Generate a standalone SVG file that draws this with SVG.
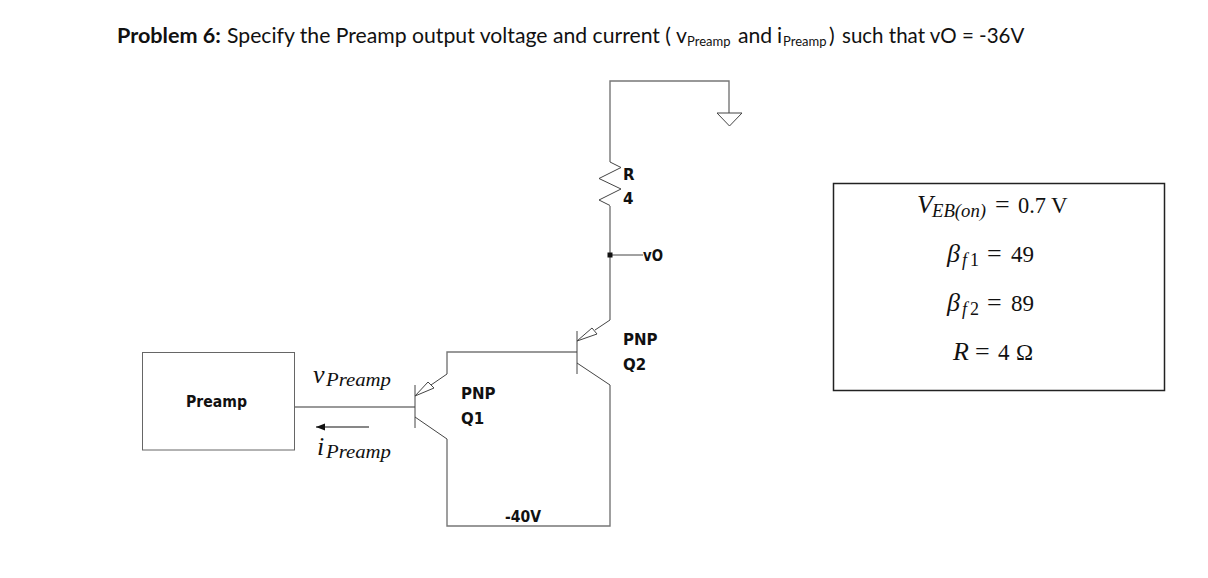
<svg xmlns="http://www.w3.org/2000/svg" width="1208" height="578" viewBox="0 0 1208 578">
<style>
.w{fill:none;stroke:#777;stroke-width:1.4}
.t{fill:none;stroke:#444;stroke-width:1}
.h{font-family:"Lato","Liberation Sans",sans-serif;font-size:21.2px;fill:#111}
.s{font-size:13px}
.l{font-family:"DejaVu Sans","Liberation Sans",sans-serif;font-size:15px;font-weight:700;fill:#111}
.m{font-family:"Liberation Serif",serif;font-size:23px;fill:#111}
.e{font-family:"Liberation Serif",serif;font-size:26px;fill:#111}
.u{font-family:"Liberation Serif",serif;font-size:18px;fill:#111}
.i{font-style:italic}
</style>
<defs><marker id="a" markerUnits="userSpaceOnUse" markerWidth="10" markerHeight="8" refX="9" refY="3.500" orient="auto"><path d="M0 0L9 3.500L0 7Z" fill="#111"/></marker></defs>
<rect width="1208" height="578" fill="#fff"/>
<g id="title">
<text class="h" y="43"><tspan x="117" font-weight="700" font-size="21.6">Problem 6:</tspan><tspan x="227">Specify the Preamp output voltage and current (</tspan><tspan x="676">v</tspan><tspan x="687" dy="3" class="s">Preamp</tspan><tspan x="738" dy="-3">and</tspan><tspan x="777">i</tspan><tspan x="783" dy="3" class="s">Preamp</tspan><tspan x="829" dy="-3">)</tspan><tspan x="842" font-size="20.5">such that vO = -36V</tspan></text>
</g>
<g id="connectors">
<path class="w" d="M610 162V81H729V113"/>
<path class="w" d="M610 206V320"/>
<path class="w" d="M447 374V352H577"/>
<path class="w" d="M610 385V526H447V439"/>
<path class="w" d="M295 407H415"/>
<path class="t" d="M610 255H643"/>
<path d="M369 427H316" fill="none" stroke="#111" stroke-width="1.2" marker-end="url(#a)"/>
</g>
<g id="ground"><path class="t" d="M717 113H742L729.500 126Z"/></g>
<g id="resistor">
<path class="t" d="M610 162L621 167.500L599 178.500L621 189L599 200L610 205.500"/>
<text class="l" x="623" y="180">R</text>
<text class="l" x="623" y="204">4</text>
</g>
<g id="vo"><rect x="607.500" y="252.500" width="5" height="5" fill="#111"/><text class="l" x="643" y="261" textLength="20" lengthAdjust="spacingAndGlyphs">vO</text></g>
<g id="q2">
<path class="t" d="M577 331V374M577 363L610 385M610 320L595 330M577 341L592 328L597 334Z"/>
<text class="l" x="623" y="345">PNP</text>
<text class="l" x="623" y="370">Q2</text>
</g>
<g id="q1">
<path class="t" d="M415 385V428M415 417L447 439M447 374L431 385M415 396L428 382L434 388Z"/>
<text class="l" x="461" y="399">PNP</text>
<text class="l" x="461" y="424">Q1</text>
</g>
<g id="supply"><text class="l" x="505" y="522" textLength="36" lengthAdjust="spacingAndGlyphs">-40V</text></g>
<g id="preamp">
<rect x="142.500" y="352.500" width="152" height="97.500" fill="#fff" stroke="#666" stroke-width="1"/>
<text class="l" x="186" y="407" textLength="61" lengthAdjust="spacingAndGlyphs">Preamp</text>
</g>
<g id="vPreamp"><text class="e i" x="313" y="383">v</text><text class="u i" x="326" y="386" textLength="65" lengthAdjust="spacingAndGlyphs">Preamp</text></g>
<g id="iPreamp"><text class="e i" x="317" y="455">i</text><text class="u i" x="326" y="458" textLength="65" lengthAdjust="spacingAndGlyphs">Preamp</text></g>
<g id="values">
<rect x="833.500" y="183.500" width="331" height="207" fill="none" stroke="#222" stroke-width="1.500"/>
<g id="veb"><text class="e i" x="917" y="213">V</text><text class="u i" x="932" y="217" textLength="54" lengthAdjust="spacingAndGlyphs">EB(on)</text><text class="e" x="995" y="213">=</text><text class="m" x="1018" y="213" textLength="28" lengthAdjust="spacingAndGlyphs">0.7</text><text class="m" x="1051" y="213">V</text></g>
<g id="bf1"><text class="e i" x="947" y="262">β</text><text class="u i" x="962" y="266">f</text><text class="u" x="970" y="266">1</text><text class="e" x="987" y="262">=</text><text class="m" x="1011" y="262">49</text></g>
<g id="bf2"><text class="e i" x="947" y="311">β</text><text class="u i" x="962" y="315">f</text><text class="u" x="970" y="315">2</text><text class="e" x="987" y="311">=</text><text class="m" x="1011" y="311">89</text></g>
<g id="r"><text class="e i" x="953" y="360">R</text><text class="e" x="975" y="360">=</text><text class="m" x="998" y="360">4</text><text class="m" x="1016" y="360">Ω</text></g>
</g>
</svg>
